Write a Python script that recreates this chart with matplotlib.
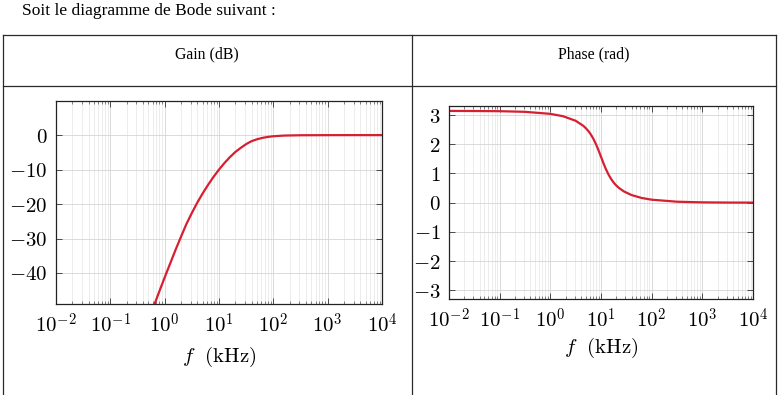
import matplotlib
matplotlib.use("Agg")
import matplotlib.pyplot as plt
from matplotlib.lines import Line2D
from matplotlib.ticker import LogLocator, FixedLocator, NullFormatter

plt.rcParams['mathtext.fontset'] = 'cm'
plt.rcParams['font.family'] = ['DejaVu Serif']

# ---- data ----
gain_logf = [-0.2, -0.1, 0.0, 0.1, 0.2, 0.3, 0.4, 0.5, 0.6, 0.7, 0.8, 0.9, 1.0, 1.1, 1.2, 1.3, 1.4,
             1.5, 1.6, 1.7, 1.8, 1.9, 2.0, 2.2, 2.5, 3.0, 3.5, 4.0]
gain_db = [-49.6, -45.4, -41.3, -37.3, -33.3, -29.5, -25.8, -22.6, -19.6, -16.9, -14.4, -12.1, -10.0,
           -8.1, -6.4, -4.9, -3.7, -2.6, -1.75, -1.2, -0.8, -0.52, -0.33, -0.13, -0.04, -0.01, 0.0, 0.0]

phase_logf = [-2, -1.5, -1, -0.5, 0, 0.25, 0.5, 0.65, 0.7, 0.75, 0.8, 0.85, 0.9, 0.95, 1.0,
              1.05, 1.1, 1.15, 1.2, 1.25, 1.3, 1.35, 1.45, 1.6, 1.8, 2.0, 2.5, 3.0, 3.5, 4.0]
phase_rad = [3.141, 3.138, 3.132, 3.110, 3.041, 2.960, 2.804, 2.632, 2.551, 2.454, 2.333, 2.185,
             2.006, 1.798, 1.571, 1.344, 1.136, 0.957, 0.809, 0.688, 0.590, 0.510, 0.386, 0.262,
             0.161, 0.101, 0.032, 0.010, 0.003, 0.001]

gain_yticks = [0, -10, -20, -30, -40]
phase_yticks = [-3, -2, -1, 0, 1, 2, 3]
xtick_exps = [-2, -1, 0, 1, 2, 3, 4]

header_left = "Gain (dB)"
header_right = "Phase (rad)"
intro = "Soit le diagramme de Bode suivant :"
xlabel = r"$f\ \ \mathrm{(kHz)}$"

W, H = 780, 395
fig = plt.figure(figsize=(W / 100, H / 100), dpi=100)

def fx(px):
    return px / W

def fy(py):
    return 1 - py / H

# table lines
tcol = '#2a2a2a'
for (x0, y0, x1, y1) in [(3, 35, 776, 35), (3, 86, 776, 86), (3, 35, 3, 395),
                         (412, 35, 412, 395), (776, 35, 776, 395)]:
    fig.add_artist(Line2D([fx(x0), fx(x1)], [fy(y0), fy(y1)], color=tcol, lw=0.9,
                          transform=fig.transFigure))

fig.text(fx(22), fy(11), intro, fontsize=12.5, family='Liberation Serif', va='center', ha='left')
fig.text(fx(207), fy(54), header_left, fontsize=11.3, family='Liberation Serif', va='center', ha='center')
fig.text(fx(594), fy(54), header_right, fontsize=11.3, family='Liberation Serif', va='center', ha='center')

red = '#d61f30'
FS = 15

def style(ax, yticks, ylim, lpad):
    ax.set_xscale('log')
    ax.set_xlim(1e-2, 1e4)
    ax.set_ylim(*ylim)
    ax.xaxis.set_major_locator(FixedLocator([10.0 ** e for e in xtick_exps]))
    ax.set_xticklabels([r"$10^{%d}$" % e for e in xtick_exps])
    ax.xaxis.set_minor_locator(LogLocator(base=10, subs=range(2, 10), numticks=50))
    ax.xaxis.set_minor_formatter(NullFormatter())
    ax.set_yticks(yticks)
    ax.set_yticklabels([r"$%d$" % v for v in yticks])
    ax.tick_params(which='major', direction='in', length=4, width=0.6, top=True, right=True,
                   labelsize=FS, pad=6, color='#333333')
    ax.tick_params(which='minor', direction='in', length=2.5, width=0.5, top=True, right=True,
                   color='#555555')
    ax.grid(True, which='major', color='#d4d4d4', lw=0.6)
    ax.grid(True, which='minor', axis='x', color='#e4e4e4', lw=0.5)
    for s in ax.spines.values():
        s.set_linewidth(0.9)
        s.set_color('#222222')
    ax.set_axisbelow(True)
    ax.set_xlabel(xlabel, fontsize=FS, labelpad=lpad)

ax1 = fig.add_axes([fx(56), fy(304), fx(382) - fx(56), fy(101) - fy(304)])
style(ax1, gain_yticks, (-49, 9.9), 6)
ax1.plot([10.0 ** v for v in gain_logf], gain_db, color=red, lw=1.6, clip_on=True)

ax2 = fig.add_axes([fx(449), fy(299.3), fx(753) - fx(449), fy(105.7) - fy(299.3)])
style(ax2, phase_yticks, (-3.31, 3.32), 3)
ax2.plot([10.0 ** v for v in phase_logf], phase_rad, color=red, lw=1.6)

fig.savefig("out.png", dpi=100)
